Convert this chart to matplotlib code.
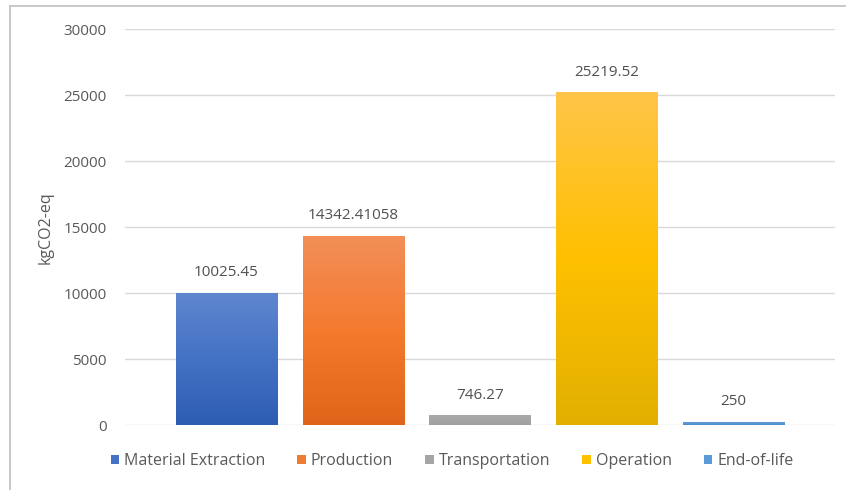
import numpy as np
import matplotlib.pyplot as plt
from matplotlib.colors import LinearSegmentedColormap
from matplotlib.patches import Rectangle, Patch

plt.rcParams['font.family'] = ['Open Sans', 'DejaVu Sans']

stages = ["Material Extraction", "Production", "Transportation", "Operation", "End-of-life"]
emissions = [10025.45, 14342.41058, 746.27, 25219.52, 250]
labels = ["10025.45", "14342.41058", "746.27", "25219.52", "250"]
# top / middle / bottom gradient colours for each bar
tops = ["#5f87cf", "#f28f58", "#a9a9a9", "#ffc548", "#5b9bd5"]
mids = ["#4472c4", "#f47a2e", "#a5a5a5", "#ffc000", "#5b9bd5"]
bottoms = ["#2d5db3", "#e0651a", "#9f9f9f", "#e2b000", "#4a8ccc"]
legend_colors = ["#4472c4", "#ed7d31", "#a5a5a5", "#ffc000", "#5b9bd5"]

text_color = "#595959"

fig = plt.figure(figsize=(8.46, 4.90), dpi=100)
ax = fig.add_axes([125/846, 1 - 425.3/490, 710/846, (425.3 - 29.3)/490])

x = np.arange(len(stages))
width = 0.8
grad = np.linspace(0, 1, 256).reshape(-1, 1)

for xi, h, t, m, b, lab in zip(x, emissions, tops, mids, bottoms, labels):
    cmap = LinearSegmentedColormap.from_list("bar", [b, m, t])
    im = ax.imshow(grad, cmap=cmap, origin="lower", aspect="auto",
                   extent=[xi - width/2, xi + width/2, 0, h], zorder=2)
    rect = Rectangle((xi - width/2, 0), width, h, facecolor="none", edgecolor="none")
    ax.add_patch(rect)
    im.set_clip_path(rect)
    ax.text(xi, h + 950, lab, ha="center", va="bottom", fontsize=11, color="#505050")

ax.set_xlim(-0.8, len(stages) - 0.2)
ax.set_ylim(0, 30000)
ax.set_yticks(np.arange(0, 30001, 5000))
ax.set_xticks([])
ax.yaxis.grid(True, color="#d9d9d9", linewidth=1)
ax.set_axisbelow(True)
for s in ax.spines.values():
    s.set_visible(False)
ax.tick_params(axis="y", length=0, pad=13, labelsize=11, labelcolor=text_color)
ax.set_ylabel("kgCO2-eq", fontsize=11.5, color=text_color)
ax.yaxis.set_label_coords(-0.101, 0.5)

handles = [Patch(facecolor=c, edgecolor="none") for c in legend_colors]
fig.legend(handles, stages, loc="center", bbox_to_anchor=(452/846, 1 - 461/490),
           ncol=5, frameon=False, fontsize=11.5, labelcolor=text_color,
           handlelength=0.55, handleheight=0.55, handletextpad=0.3, columnspacing=2.0)

# outer frame on the left and top edges
fig.add_artist(plt.Line2D([10/846, 10/846], [0, 1 - 6/490], color="#bfbfbf", linewidth=1.2))
fig.add_artist(plt.Line2D([10/846, 1], [1 - 6/490, 1 - 6/490], color="#bfbfbf", linewidth=1.2))

fig.savefig("out.png", dpi=100)
